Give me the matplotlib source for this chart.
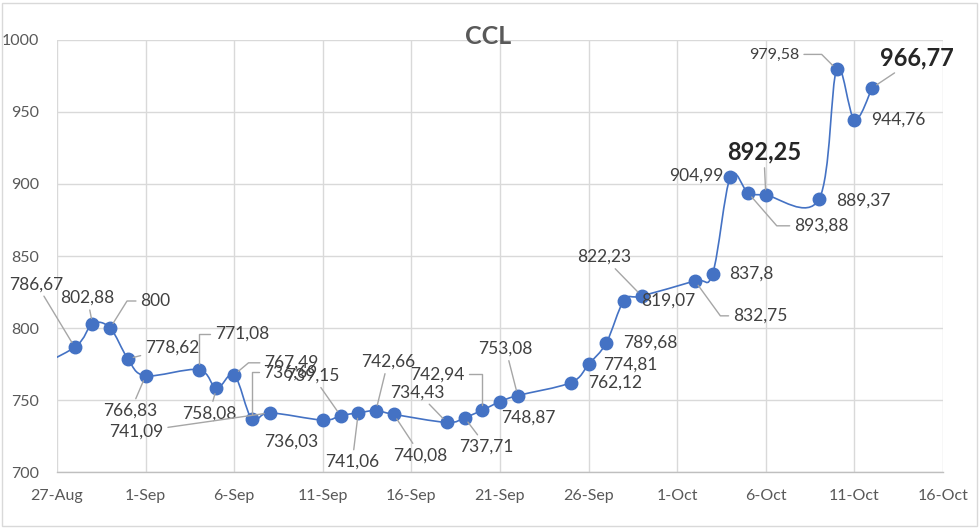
import numpy as np
import pandas as pd
import matplotlib
matplotlib.use("Agg")
import matplotlib.pyplot as plt
import matplotlib.dates as mdates
from matplotlib.path import Path
from matplotlib.patches import PathPatch, Rectangle

# ---------------- data ----------------
title = "CCL"
dates = ["2023-08-25",
         "2023-08-28", "2023-08-29", "2023-08-30", "2023-08-31", "2023-09-01",
         "2023-09-04", "2023-09-05", "2023-09-06", "2023-09-07", "2023-09-08",
         "2023-09-11", "2023-09-12", "2023-09-13", "2023-09-14", "2023-09-15",
         "2023-09-18", "2023-09-19", "2023-09-20", "2023-09-21", "2023-09-22",
         "2023-09-25", "2023-09-26", "2023-09-27", "2023-09-28", "2023-09-29",
         "2023-10-02", "2023-10-03", "2023-10-04", "2023-10-05", "2023-10-06",
         "2023-10-09", "2023-10-10", "2023-10-11", "2023-10-12"]
values = [768.0,
          786.67, 802.88, 800.00, 778.62, 766.83,
          771.08, 758.08, 767.49, 736.69, 741.09,
          736.03, 739.15, 741.06, 742.66, 740.08,
          734.43, 737.71, 742.94, 748.87, 753.08,
          762.12, 774.81, 789.68, 819.07, 822.23,
          832.75, 837.80, 904.99, 893.88, 892.25,
          889.37, 979.58, 944.76, 966.77]
tick_dates = ["2023-08-27", "2023-09-01", "2023-09-06", "2023-09-11", "2023-09-16",
              "2023-09-21", "2023-09-26", "2023-10-01", "2023-10-06", "2023-10-11",
              "2023-10-16"]
tick_labels = ["27-Aug", "1-Sep", "6-Sep", "11-Sep", "16-Sep", "21-Sep",
               "26-Sep", "1-Oct", "6-Oct", "11-Oct", "16-Oct"]
y_ticks = [700, 750, 800, 850, 900, 950, 1000]

# ---------------- label styling (offsets in pixels, leader style) ----------------
label_style = [
    None,
    (-38, 63, 'line'), (-5, 26, 'line'), (45, 27, (0, 58)), (44, 11, 'line'), (-15, -35, 'line'),
    (43, 36, (0, 90)), (-7, -25, 'line'), (57, 12, (0, 40)), (38, 47, (0, 90)), (-133, -19, 'line'),
    (-32, -22, None), (-28, 40, 'line'), (-6, -49, 'line'), (12, 49, 'line'), (27, -41, 'line'),
    (-29, 30, 'line'), (22, -29, 'line'), (-45, 36, (0, 90)), (28, -16, None), (-12, 47, 'line'),
    (44, 0, None), (42, 0, None), (44, 0, None), (44, 0, None), (-38, 39, 'line'),
    (65, -35, (0, 126)), (39, 0, None), (-34, 1, None), (73, -33, (0, 131)), (-2, 43, 'line'),
    (44, -1, None), (-62, 15, (0, -45)), (44, 0, None), (45, 30, 'line'),
]
bold_idx = {30, 34}
small_idx = {32}

LINE_C = "#4472C4"
GRID_C = "#d9d9d9"
TEXT_C = "#404040"
TICK_C = "#595959"
LEAD_C = "#a6a6a6"

plt.rcParams['font.family'] = ['Lato', 'DejaVu Sans']

fig = plt.figure(figsize=(9.8, 5.28), dpi=100)
ax = fig.add_axes([57/980, (528-472)/528, (943-57)/980, (472-40)/528])

x = mdates.date2num(pd.to_datetime(dates))
y = np.array(values, dtype=float)

# smoothed line (Catmull-Rom style bezier, like Excel's smoothed line)
pts = np.column_stack([x, y])
n = len(pts)
verts = [pts[0]]
codes = [Path.MOVETO]
for i in range(n - 1):
    p0 = pts[max(i - 1, 0)]
    p1 = pts[i]
    p2 = pts[i + 1]
    p3 = pts[min(i + 2, n - 1)]
    c1 = p1 + (p2 - p0) / 6.0
    c2 = p2 - (p3 - p1) / 6.0
    verts += [c1, c2, p2]
    codes += [Path.CURVE4] * 3
patch = PathPatch(Path(verts, codes), facecolor='none', edgecolor=LINE_C, lw=1.2, zorder=3)
ax.add_patch(patch)
ax.plot(x, y, linestyle='none', marker='o', markersize=9, color=LINE_C, zorder=4)

xt = mdates.date2num(pd.to_datetime(tick_dates))
ax.set_xlim(xt[0], xt[-1])
ax.set_ylim(y_ticks[0], y_ticks[-1])
ax.set_xticks(xt)
ax.set_xticklabels(tick_labels)
ax.set_yticks(y_ticks)
ax.set_yticklabels([str(v) for v in y_ticks])
ax.tick_params(axis='both', length=0, colors=TICK_C, labelsize=11.5)
ax.tick_params(axis='x', pad=12)
ax.tick_params(axis='y', pad=13)
ax.grid(True, color=GRID_C, lw=1.0, zorder=0)
ax.set_axisbelow(True)
for s in ['top', 'right', 'left']:
    ax.spines[s].set_visible(False)
ax.spines['bottom'].set_color("#bfbfbf")
ax.spines['bottom'].set_linewidth(1.0)

def fmt(v):
    return f"{v:g}".replace('.', ',')

for i, (xi, yi) in enumerate(zip(x, y)):
    st = label_style[i]
    if st is None:
        continue
    dx, dy, lead = st
    if i in bold_idx:
        kw = dict(fontsize=17, fontweight='bold', color="#262626")
    elif i in small_idx:
        kw = dict(fontsize=11.5, color=TEXT_C)
    else:
        kw = dict(fontsize=12.5, color=TEXT_C)
    arrow = None
    if lead == 'line':
        arrow = dict(arrowstyle='-', color=LEAD_C, lw=1.0, shrinkA=1, shrinkB=4)
    elif isinstance(lead, tuple):
        arrow = dict(arrowstyle='-', color=LEAD_C, lw=1.0, shrinkA=1, shrinkB=4,
                     connectionstyle=f"angle,angleA={lead[0]},angleB={lead[1]},rad=0")
    ax.annotate(fmt(yi), xy=(xi, yi), xytext=(dx, dy), textcoords='offset pixels',
                ha='center', va='center', arrowprops=arrow, zorder=5,
                annotation_clip=False, **kw)

fig.text(488/980, 1 - 37/528, title, ha='center', va='center',
         fontsize=18, fontweight='bold', color=TICK_C)

fig.patches.append(Rectangle((2/980, 2/528), 975/980, 523/528, transform=fig.transFigure,
                             fill=False, edgecolor=GRID_C, lw=1.0))

fig.savefig("out.png", dpi=100)
